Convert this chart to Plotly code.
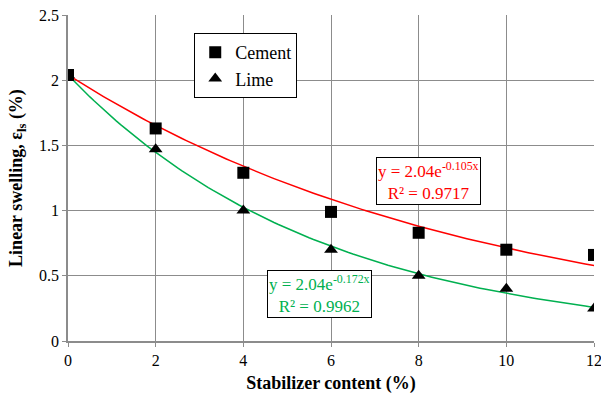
import numpy as np
import plotly.graph_objects as go

content = [0, 2, 4, 6, 8, 10, 12]
cement = [2.04, 1.63, 1.29, 0.99, 0.83, 0.70, 0.66]
lime = [2.04, 1.47, 1.00, 0.70, 0.50, 0.40, 0.25]
fit_a_cement, fit_b_cement = 2.04, -0.105
fit_a_lime, fit_b_lime = 2.04, -0.172

xs = np.linspace(0, 12, 121)
font = "Times New Roman, Liberation Serif, serif"
grid = "#8c8c8c"

fig = go.Figure()
fig.add_trace(go.Scatter(x=xs, y=fit_a_cement * np.exp(fit_b_cement * xs), mode="lines",
                         line=dict(color="#ff0000", width=1.5), showlegend=False, hoverinfo="skip"))
fig.add_trace(go.Scatter(x=xs, y=fit_a_lime * np.exp(fit_b_lime * xs), mode="lines",
                         line=dict(color="#00b050", width=1.5), showlegend=False, hoverinfo="skip"))
fig.add_trace(go.Scatter(x=content, y=cement, mode="markers", name="Cement",
                         marker=dict(symbol="square", size=12, color="black")))
fig.add_trace(go.Scatter(x=content, y=lime, mode="markers", name="Lime",
                         marker=dict(symbol="triangle-up", size=12, color="black")))

fig.add_annotation(x=8.22, y=1.227, xref="x", yref="y",
                   text="y = 2.04e<sup>-0.105x</sup><br>R² = 0.9717", showarrow=False,
                   font=dict(family=font, size=17, color="#ff0000"),
                   bordercolor="black", borderwidth=1, bgcolor="white", borderpad=1)
fig.add_annotation(x=5.74, y=0.36, xref="x", yref="y",
                   text="y = 2.04e<sup>-0.172x</sup><br>R² = 0.9962", showarrow=False,
                   font=dict(family=font, size=17, color="#00b050"),
                   bordercolor="black", borderwidth=1, bgcolor="white", borderpad=1)

fig.update_layout(
    width=601, height=394,
    margin=dict(l=68, r=7, t=15, b=53),
    paper_bgcolor="white", plot_bgcolor="white",
    font=dict(family=font, size=16, color="black"),
    legend=dict(x=0.24, y=0.945, xanchor="left", yanchor="top",
                bordercolor="black", borderwidth=1, bgcolor="white",
                font=dict(family=font, size=18, color="black"), itemwidth=30, tracegroupgap=2),
    xaxis=dict(range=[0, 12], dtick=2, showgrid=True, gridcolor=grid, gridwidth=1,
               showline=True, linecolor=grid, linewidth=1.5, ticks="outside", ticklen=4,
               tickcolor=grid, zeroline=False, ticklabeloverflow="allow", automargin=False,
               tickfont=dict(family=font, size=16, color="black"),
               title=dict(text="<b>Stabilizer content (%)</b>",
                          font=dict(family=font, size=18, color="black"), standoff=10)),
    yaxis=dict(range=[0, 2.5], dtick=0.5, showgrid=True, gridcolor=grid, gridwidth=1,
               showline=True, linecolor=grid, linewidth=1.5, ticks="outside", ticklen=4,
               tickcolor=grid, zeroline=False, automargin=False,
               tickfont=dict(family=font, size=16, color="black"),
               title=dict(text="<b>Linear swelling, ε<sub>ls</sub> (%)</b>",
                          font=dict(family=font, size=18, color="black"), standoff=12)),
)

fig.write_html("out.html")
